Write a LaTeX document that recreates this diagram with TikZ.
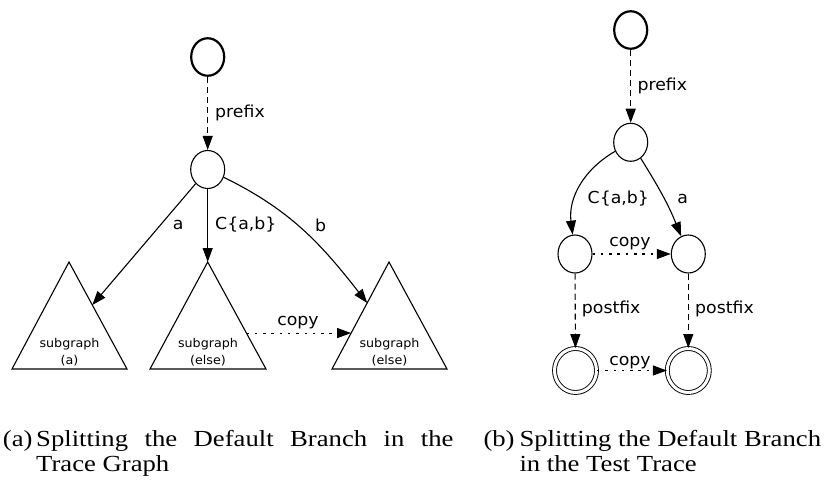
\documentclass[tikz,border=0pt]{standalone}
\usepackage{fontspec}
\setmainfont{Liberation Serif}
\newfontfamily\lblfont[FakeStretch=1.05]{DejaVu Sans}
\newfontfamily\capfont[FakeStretch=1.16]{Liberation Serif}
\usetikzlibrary{arrows.meta,shapes.geometric,calc}

\begin{document}
\begin{tikzpicture}[x=1pt,y=1pt,
  plainst/.style={ellipse,draw,line width=1.1pt,minimum width=34pt,minimum height=38pt,inner sep=0pt},
  initst/.style={plainst,line width=2.2pt,minimum width=33pt,minimum height=37.5pt},
  finalst/.style={plainst,double,double distance=3pt,line width=0.9pt,minimum width=42pt,minimum height=44pt},
  tri/.style={draw,line width=1.1pt,line join=miter},
  arr/.style={line width=1.1pt,-{Triangle[length=14pt,width=10pt]}},
  pfx/.style={arr,dash pattern=on 6pt off 4pt},
  cpy/.style={arr,dash pattern=on 2.5pt off 5.8pt},
  lbl/.style={font=\lblfont\fontsize{16.5}{19}\selectfont,inner sep=0pt},
  subtxt/.style={font=\lblfont\fontsize{12.1}{17.7}\selectfont,inner sep=0pt,align=center,anchor=base},
  captxt/.style={font=\capfont\fontsize{23}{25}\selectfont,inner sep=0pt,anchor=base west}]

\useasboundingbox (0,0) rectangle (827,-484);

% ---------- (a) trace graph ----------
\node[initst] (n0) at (207.7,-57) {};
\node[plainst] (n1) at (207.7,-169.5) {};

% subgraph triangles: apex, base right, base left
\coordinate (tA) at (69,-262);    \coordinate (tAr) at (127,-369); \coordinate (tAl) at (12,-369);
\coordinate (tB) at (207.7,-262); \coordinate (tBr) at (266,-369); \coordinate (tBl) at (150,-369);
\coordinate (tC) at (389,-262);   \coordinate (tCr) at (447,-369); \coordinate (tCl) at (332,-369);
\draw[tri] (tA) -- (tAr) -- (tAl) -- cycle;
\draw[tri] (tB) -- (tBr) -- (tBl) -- cycle;
\draw[tri] (tC) -- (tCr) -- (tCl) -- cycle;

% the base anchor of these two-line nodes sits on the lower line
\node[subtxt] (sA) at (69.5,-364.9) {subgraph\\(a)};
\node[subtxt] (sB) at (208,-364.9) {subgraph\\(else)};
\node[subtxt] (sC) at (389.5,-364.9) {subgraph\\(else)};

\coordinate (hA) at ($(tA)!0.402!(tAr)$);
\coordinate (hC) at ($(tC)!0.383!(tCl)$);
\coordinate (cB) at ($(tB)!0.664!(tBr)$);
\coordinate (cC) at ($(tC)!0.664!(tCl)$);

\draw[pfx] (n0) -- (n1);
\draw[arr] (n1) -- (hA);
\draw[arr] (n1) -- (tB);
\draw[arr] (n1) to[out=-26,in=128] (hC);
\draw[cpy] (cB) -- (cC);

\node[lbl,anchor=west] (lpa) at (215,-113) {prefix};
\node[lbl] (la) at (178.3,-225) {a};
\node[lbl,anchor=west] (lcab) at (215,-225) {C\{a,b\}};
\node[lbl] (lb) at (320.5,-225) {b};
\node[lbl] (lcpa) at (298,-323) {copy};

% ---------- (b) test trace ----------
\node[initst] (m0) at (630.7,-30) {};
\node[plainst] (m1) at (630.7,-142.3) {};
\node[plainst] (m2) at (575,-254) {};
\node[plainst] (m3) at (688.3,-254) {};
\node[finalst] (f0) at (575.5,-370.5) {};
\node[finalst] (f1) at (688.3,-370.5) {};

\draw[pfx] (m0) -- (m1);
\draw[arr] (m1) to[out=210,in=97] (m2);
\draw[arr] (m1) to[out=-58,in=112] (m3);
\draw[cpy] (m2) -- (m3);
\draw[pfx] (m2) -- (f0);
\draw[pfx] (m3) -- (f1);
\draw[cpy] (f0) -- (f1);

\node[lbl,anchor=west] (lpb) at (637.3,-86) {prefix};
\node[lbl] (lcab2) at (618.3,-198.5) {C\{a,b\}};
\node[lbl] (la2) at (682.7,-198.7) {a};
\node[lbl] (lcp2) at (630,-244) {copy};
\node[lbl,anchor=west] (lpf1) at (581.7,-309) {postfix};
\node[lbl,anchor=west] (lpf2) at (695,-309) {postfix};
\node[lbl] (lcp3) at (630,-362.5) {copy};

% ---------- captions ----------
\node[captxt] (ca1) at (2.7,-446.8) {(a)};
\node[captxt] (ca2) at (36,-446.8) {\makebox[417.3pt][s]{Splitting the Default Branch in the}};
\node[captxt] (ca3) at (36,-471.5) {Trace Graph};
\node[captxt] (cb1) at (483.3,-446.8) {(b)};
\node[captxt] (cb2) at (519.3,-446.8) {Splitting the Default Branch};
\node[captxt] (cb3) at (519.3,-471.5) {in the Test Trace};
\end{tikzpicture}
\end{document}
